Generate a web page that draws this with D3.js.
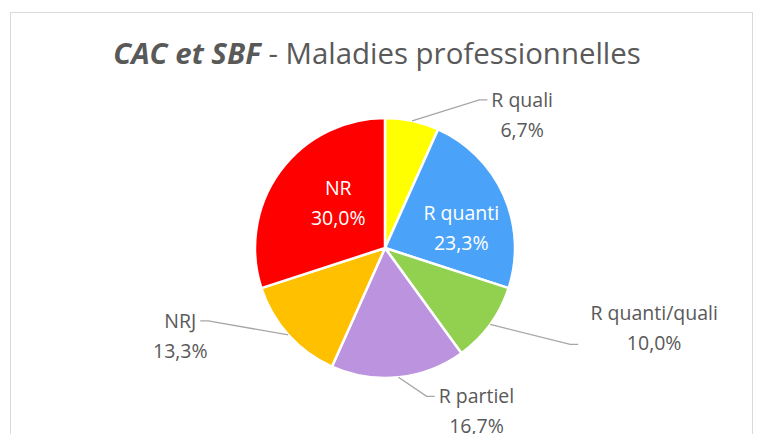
<!DOCTYPE html>
<html>
<head>
<meta charset="utf-8">
<script src="https://cdn.jsdelivr.net/npm/d3@7"></script>
<style>
  body { margin: 0; background: #fff; }
  svg text { font-family: "Open Sans", "Noto Sans", sans-serif; fill: #595959; }
</style>
</head>
<body>
<svg id="chart" width="764" height="434"></svg>
<script>
// data
var categories = ["R quali", "R quanti", "R quanti/quali", "R partiel", "NRJ", "NR"];
var values = [6.7, 23.3, 10.0, 16.7, 13.3, 30.0];
var pctLabels = ["6,7%", "23,3%", "10,0%", "16,7%", "13,3%", "30,0%"];
var colors = ["#FFFF00", "#4BA3F9", "#92D050", "#BC93DF", "#FFC000", "#FF0000"];
var insideLabels = ["R quanti", "NR"];

var svg = d3.select("#chart"),
    cx = 385, cy = 248, radius = 130;

// chart frame
svg.append("rect")
    .attr("x", 10.5).attr("y", 12.5)
    .attr("width", 742).attr("height", 440)
    .attr("fill", "none").attr("stroke", "#d9d9d9");

// title, fitted to the original width
var title = svg.append("text")
    .attr("x", 377).attr("y", 64)
    .attr("text-anchor", "middle")
    .style("font-size", "26px");
title.append("tspan").style("font-weight", "bold").style("font-style", "italic").text("CAC et SBF");
title.append("tspan").text(" - Maladies professionnelles");
var tw = title.node().getComputedTextLength();
title.style("font-size", (26 * 528 / tw) + "px");

var pie = d3.pie().sort(null).value(function(d) { return d; });
var arcs = pie(values);

var arc = d3.arc().innerRadius(0).outerRadius(radius);
var labelArc = d3.arc().innerRadius(radius * 0.55).outerRadius(radius * 0.7);

var g = svg.append("g").attr("transform", "translate(" + cx + "," + cy + ")");

g.selectAll("path.slice")
    .data(arcs)
    .enter().append("path")
    .attr("class", "slice")
    .attr("d", arc)
    .attr("fill", function(d, i) { return colors[i]; })
    .attr("stroke", "#fff")
    .attr("stroke-width", 2.5)
    .attr("stroke-linejoin", "round");

// label centre offsets: inside ones from the centroid, outside ones from the slice edge point
var nudge = {
    "R quali": [110, -6],
    "R quanti": [2, 13],
    "R quanti/quali": [164, 4],
    "R partiel": [78, 34],
    "NRJ": [-108, 1],
    "NR": [19, 3]
};

arcs.forEach(function(d, i) {
    var name = categories[i];
    var mid = (d.startAngle + d.endAngle) / 2;
    var n = nudge[name];
    if (insideLabels.indexOf(name) >= 0) {
        var c = labelArc.centroid(d);
        var t = g.append("text")
            .attr("text-anchor", "middle")
            .style("font-size", "19.5px")
            .style("fill", "#fff");
        t.append("tspan").attr("x", c[0] + n[0]).attr("y", c[1] + n[1] - 8).text(name);
        t.append("tspan").attr("x", c[0] + n[0]).attr("y", c[1] + n[1] + 22).text(pctLabels[i]);
        return;
    }
    var px = Math.sin(mid) * radius, py = -Math.cos(mid) * radius;
    var lx = px + n[0], ly = py + n[1];
    var tb = g.append("text")
        .attr("text-anchor", "middle")
        .style("font-size", "19.5px");
    tb.append("tspan").attr("x", lx).attr("y", ly - 8).text(name);
    tb.append("tspan").attr("x", lx).attr("y", ly + 22).text(pctLabels[i]);
    // leader line: from slice edge to the side of the first line
    var w = tb.select("tspan").node().getComputedTextLength();
    var right = n[0] < 0;
    var endX = right ? lx + w / 2 + 4 : lx - w / 2 - 4;
    var endY = ly - 15;
    if (name === "R quanti/quali") { endX = lx - 76; endY = ly + 16; }
    var elbowX = right ? endX + 8 : endX - 8;
    g.append("polyline")
        .attr("points", [[px, py], [elbowX, endY], [endX, endY]].map(function(p) { return p.join(","); }).join(" "))
        .attr("fill", "none")
        .attr("stroke", "#a6a6a6")
        .attr("stroke-width", 1.3);
});
</script>
</body>
</html>
